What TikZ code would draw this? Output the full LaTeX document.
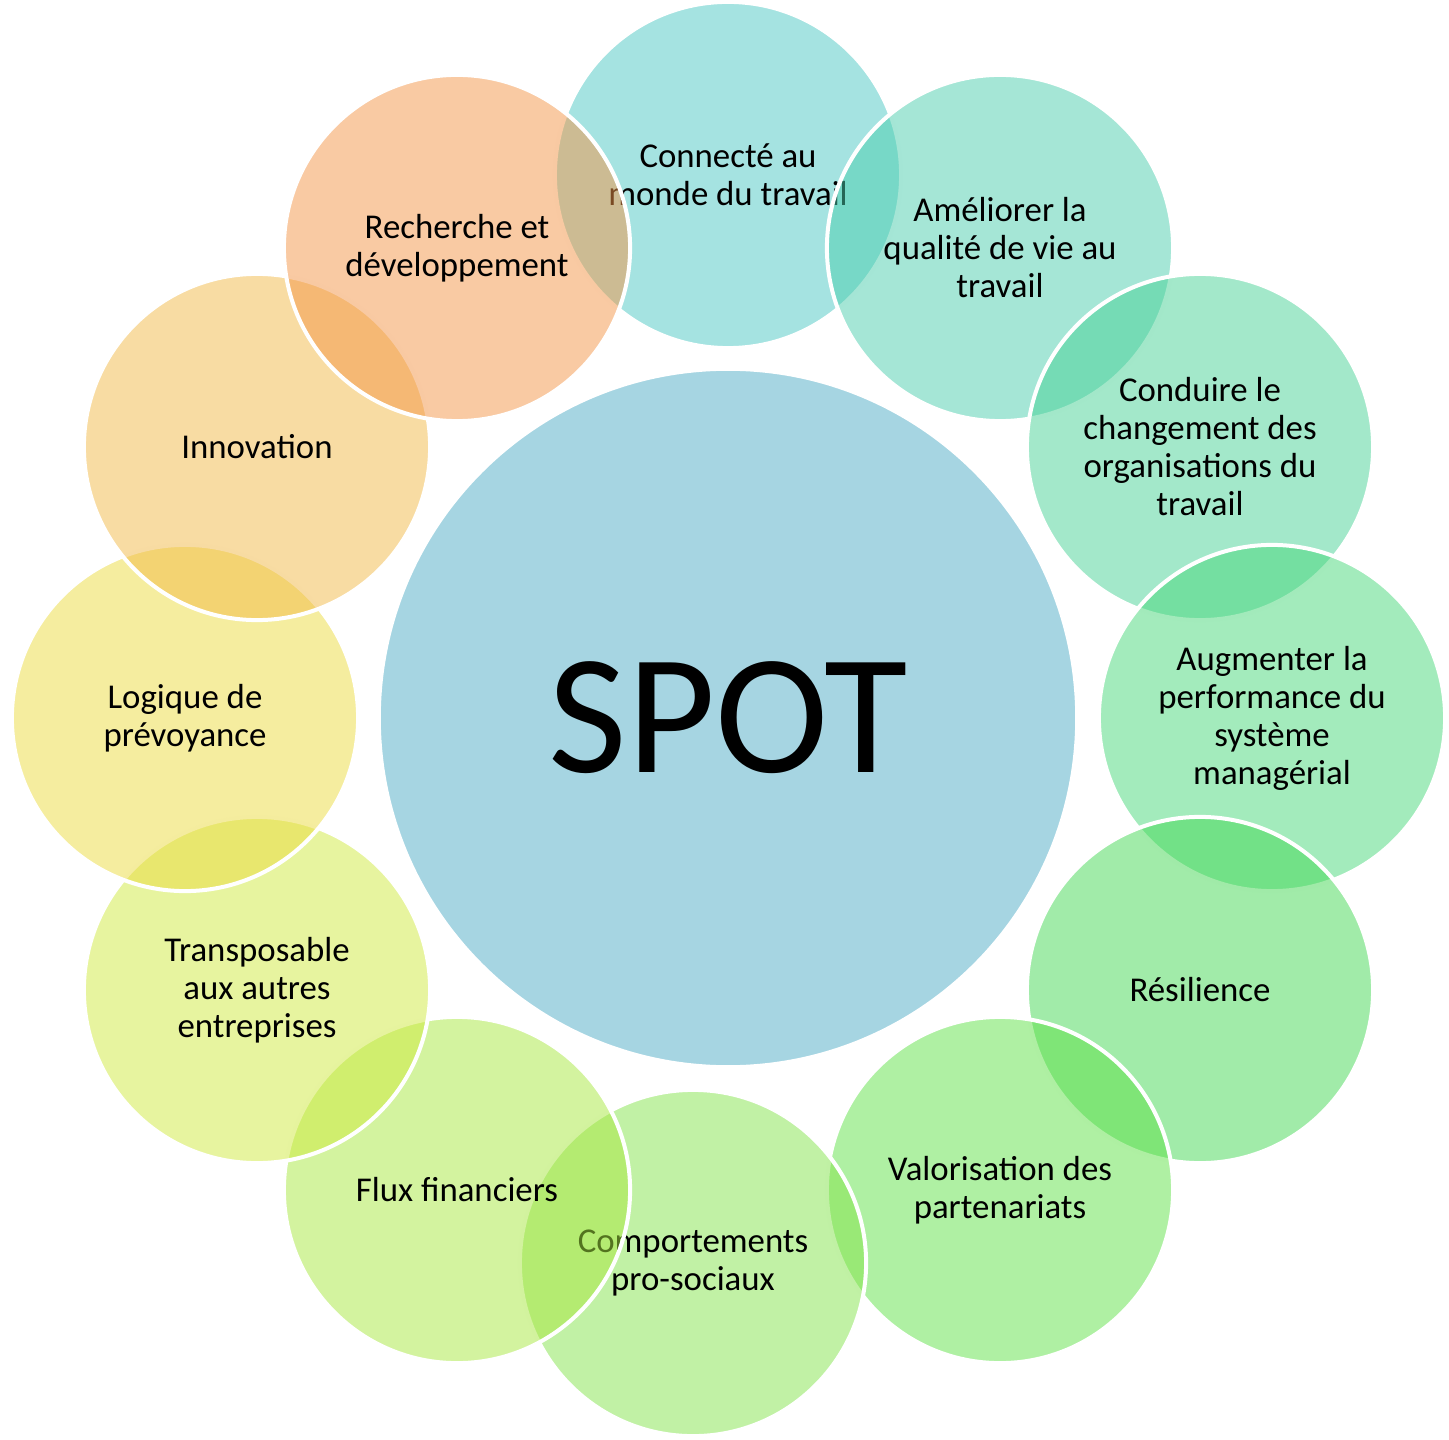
\documentclass[tikz,border=0pt]{standalone}
\usepackage{fontspec}
\setmainfont{Carlito}
\definecolor{spotblue}{HTML}{A6D5E2}
\definecolor{connect}{RGB}{75,199,195}
\definecolor{ameliorer}{RGB}{75,205,173}
\definecolor{conduire}{RGB}{71,209,149}
\definecolor{augmenter}{RGB}{71,215,121}
\definecolor{resilience}{RGB}{67,215,83}
\definecolor{valorise}{RGB}{95,225,71}
\definecolor{comporte}{RGB}{131,227,75}
\definecolor{flux}{RGB}{167,231,63}
\definecolor{transpose}{RGB}{207,233,63}
\definecolor{logique}{RGB}{235,219,63}
\definecolor{innove}{RGB}{241,185,71}
\definecolor{recherche}{RGB}{243,149,71}
\newcommand\petalfont{\fontsize{9.9}{10.8}\selectfont}
\tikzset{
  petal/.style={circle, minimum size=3.46cm, inner sep=0pt, draw=white,
    line width=0.04cm, fill opacity=0.5, text opacity=1, align=center, font=\petalfont},
  hub/.style={circle, minimum size=6.98cm, inner sep=0pt, draw=white,
    line width=0.04cm, fill=spotblue, font=\fontsize{48.6}{50}\selectfont}
}
\begin{document}
\begin{tikzpicture}[x=0.01cm, y=-0.01cm]
\useasboundingbox (0,0) rectangle (1449,1440);
\node[hub] (spot) at (728,718) {SPOT};
\foreach \px/\py/\col/\txt [count=\i] in {
  728/175/connect/{Connecté au\\monde du travail},
  1000/248/ameliorer/{Améliorer la\\qualité de vie au\\travail},
  1200/447/conduire/{Conduire le\\changement des\\organisations du\\travail},
  1272/718/augmenter/{Augmenter la\\performance du\\système\\managérial},
  1200/990/resilience/{Résilience},
  1000/1190/valorise/{Valorisation des\\partenariats},
  693/1263/comporte/{Comportements\\pro-sociaux},
  457/1190/flux/{Flux financiers},
  257/990/transpose/{Transposable\\aux autres\\entreprises},
  185/718/logique/{Logique de\\prévoyance},
  257/447/innove/{Innovation},
  457/248/recherche/{Recherche et\\développement}}
  \node[petal, fill=\col] (petal\i) at (\px,\py) {\txt};
\end{tikzpicture}
\end{document}
